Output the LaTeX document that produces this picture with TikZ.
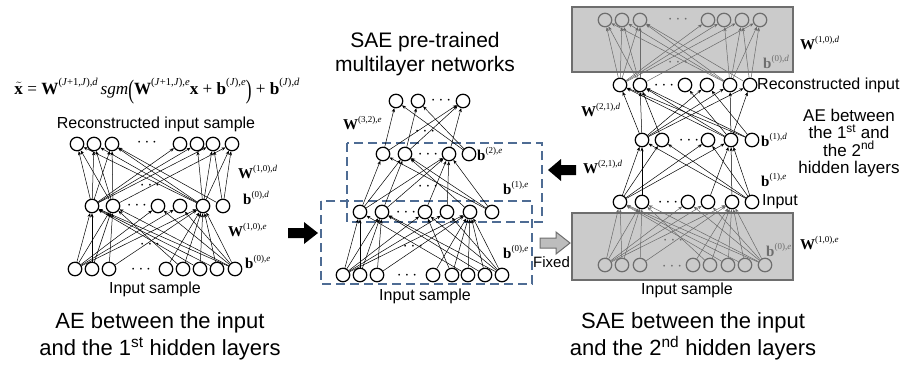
\documentclass[tikz,border=0pt]{standalone}
\usepackage{fontspec}
\usepackage{graphicx}
\setmainfont{Liberation Sans}
\newfontfamily\tms{Liberation Serif}
\usetikzlibrary{arrows.meta}
\definecolor{gbord}{HTML}{6E6E6E}
\definecolor{gfill}{HTML}{CBCBCB}
\definecolor{gline}{HTML}{6A6A6A}
\definecolor{dboxc}{HTML}{4E6C94}
\definecolor{harrow}{HTML}{BDBDBD}
\newcommand\blab[2]{{\tms\fontsize{15}{15}\selectfont\textbf{#1}\raisebox{0.5em}{\fontsize{9}{9}\selectfont #2}}}
\newcommand\fsup[1]{\raisebox{0.5em}{\fontsize{10.5}{10.5}\selectfont #1}}
\newcommand\bigpar[1]{\raisebox{-0.22em}{\scalebox{1}[1.55]{#1}}}
\newcommand\dotsym{\smash{$\cdots$}}
\begin{document}
\begin{tikzpicture}[x=1pt,y=-1pt,
 neuron/.style={circle,draw=black,line width=1.25pt,minimum size=13.5pt,inner sep=0pt},
 gneuron/.style={neuron,draw=gbord},
 edge/.style={line width=0.5pt,-{Stealth[length=4pt,width=3.2pt]}},
 gedge/.style={edge,draw=gline,color=gline},
 dts/.style={font=\fontsize{16}{16}\selectfont,inner sep=0pt,yshift=-4pt},
 lab/.style={anchor=west,inner sep=0pt},
 txt/.style={font=\fontsize{16}{16}\selectfont,inner sep=0pt},
 captxt/.style={font=\fontsize{22}{27}\selectfont,align=center,inner sep=0pt},
 dbox/.style={draw=dboxc,line width=1.5pt,dash pattern=on 9pt off 5pt},
 gbox/.style={draw=gbord,fill=gfill,line width=1.2pt},
]
\fill[white] (0,0) rectangle (910,367);
\useasboundingbox (0,0) rectangle (910,367);

% ================= LEFT PANEL =================
\node[inner sep=0pt] (formula) at (157,91) {\resizebox{285pt}{!}{\tms\fontsize{17}{17}\selectfont
 $\tilde{\mbox{\textbf{x}}}$ = \textbf{W}\fsup{(\textit{J}+1,\textit{J}),\textit{d}}\,\textit{sgm}\bigpar{(}\textbf{W}\fsup{(\textit{J}+1,\textit{J}),\textit{e}}\textbf{x} + \textbf{b}\fsup{(\textit{J}),\textit{e}}\bigpar{)} + \textbf{b}\fsup{(\textit{J}),\textit{d}}}};
\node[txt] (recL) at (156,124) {Reconstructed input sample};
\foreach \x [count=\i] in {77,94,112,180,197,213,232} \node[neuron] (LT\i) at (\x,144) {};
\foreach \x [count=\i] in {92,113,158,180,203,223} \node[neuron] (LM\i) at (\x,206) {};
\foreach \x [count=\i] in {75,92,109,166,183,200,217,235} \node[neuron] (LB\i) at (\x,269) {};
\foreach \a/\b in {1/1,1/2,1/3,1/4,1/5,1/6,2/1,2/2,2/3,2/7,5/1,5/2,5/3,5/5,5/6,5/7,6/3,6/6,6/7}
  \draw[edge] (LM\a) -- (LT\b);
\foreach \a/\b in {1/1,1/2,1/3,1/4,1/5,2/1,2/2,3/2,3/5,4/5,5/5,5/2,6/5,6/1,7/1,7/5,8/1,8/2,8/3,8/4,8/5}
  \draw[edge] (LB\a) -- (LM\b);
\node[dts] (ld1) at (147,142) {\dotsym};
\node[dts] (ld2) at (150,185) {\dotsym};
\node[dts] (ld3) at (137,205) {\dotsym};
\node[dts] (ld4) at (150,244) {\dotsym};
\node[dts] (ld5) at (141,269) {\dotsym};
\node[lab] (lW1) at (238,172) {\blab{W}{(1,0),\textit{d}}};
\node[lab] (lb1) at (243,198) {\blab{b}{(0),\textit{d}}};
\node[lab] (lW2) at (228,230) {\blab{W}{(1,0),\textit{e}}};
\node[lab] (lb2) at (245,262) {\blab{b}{(0),\textit{e}}};
\node[txt] (inL) at (155,289) {Input sample};
\node[captxt] (capL) at (160,336) {AE between the input\\and the 1\textsuperscript{st} hidden layers};
\fill (288,228) -- (304,228) -- (304,222) -- (318,233) -- (304,244) -- (304,238) -- (288,238) -- cycle;

% ================= MIDDLE PANEL =================
\node[captxt,font=\fontsize{21}{24}\selectfont] (titM) at (425,54) {SAE pre-trained\\multilayer networks};
\foreach \x [count=\i] in {396,418,463} \node[neuron] (MT\i) at (\x,101) {};
\foreach \x [count=\i] in {383,405,449,469} \node[neuron] (MH\i) at (\x,154) {};
\foreach \x [count=\i] in {360,382,425,447,470,492} \node[neuron] (MG\i) at (\x,212) {};
\foreach \x [count=\i] in {343,360,377,433,452,468,485,502} \node[neuron] (MI\i) at (\x,275) {};
\draw[dbox] (347,143) rectangle (542,222);
\draw[dbox] (321,201) rectangle (532,284);
\foreach \a/\b in {1/1,1/3,2/2,2/3,3/3,4/1,4/2}
  \draw[edge] (MH\a) -- (MT\b);
\foreach \a/\b in {1/1,1/2,1/3,2/2,2/3,3/3,4/3,5/2,6/1,6/2,6/3}
  \draw[edge] (MG\a) -- (MH\b);
\foreach \a/\b in {1/1,1/2,1/3,1/4,1/5,2/1,2/2,3/2,3/5,4/5,5/5,5/3,6/5,6/1,7/2,7/5,8/2,8/3,8/4,8/5}
  \draw[edge] (MI\a) -- (MG\b);
\node[dts] (md1) at (441,100) {\dotsym};
\node[dts] (md2) at (425,131) {\dotsym};
\node[dts] (md3) at (428,154) {\dotsym};
\node[dts] (md4) at (428,186) {\dotsym};
\node[dts] (md5) at (406,212) {\dotsym};
\node[dts] (md6) at (413,246) {\dotsym};
\node[dts] (md7) at (407,275) {\dotsym};
\node[lab] (mW) at (343,123) {\blab{W}{(3,2),\textit{e}}};
\node[lab] (mb2) at (477,154) {\blab{b}{(2),\textit{e}}};
\node[lab] (mb1) at (503,188) {\blab{b}{(1),\textit{e}}};
\node[lab] (mb0) at (503,252) {\blab{b}{(0),\textit{e}}};
\node[txt] (inM) at (425,296) {Input sample};
\fill (548,170) -- (561,159) -- (561,165) -- (576,165) -- (576,175) -- (561,175) -- (561,181) -- cycle;
\draw[draw=gbord,fill=harrow,line width=1pt] (540,238) -- (556,238) -- (556,232) -- (570,243) -- (556,254) -- (556,248) -- (540,248) -- cycle;
\node[lab,font=\fontsize{15}{15}\selectfont] (fixed) at (533,262) {Fixed};

% ================= RIGHT PANEL =================
\draw[gbox] (572,7) rectangle (793,72);
\draw[gbox] (572,213) rectangle (793,280);
\foreach \x [count=\i] in {605,622,640,708,724,742,760} \node[gneuron] (RT\i) at (\x,20) {};
\foreach \x [count=\i] in {620,640,685,707,730,750} \node[neuron] (R\i) at (\x,85) {};
\foreach \x [count=\i] in {642,662,708,731,752} \node[neuron] (RH\i) at (\x,140) {};
\foreach \x [count=\i] in {620,642,688,708,732,752} \node[neuron] (RI\i) at (\x,202) {};
\foreach \x [count=\i] in {605,622,640,693,710,728,745,765} \node[gneuron] (RB\i) at (\x,265) {};
\foreach \a/\b in {1/1,1/2,1/3,1/4,1/5,1/6,2/1,2/2,2/3,2/7,5/1,5/2,5/3,5/5,5/6,5/7,6/3,6/6,6/7}
  \draw[gedge] (R\a) -- (RT\b);
\foreach \a/\b in {1/1,1/2,1/4,1/5,1/6,2/2,4/1,4/2,4/3,4/5,4/6,5/1,5/2,5/4}
  \draw[edge] (RH\a) -- (R\b);
\foreach \a/\b in {1/1,1/2,1/3,1/4,2/1,4/4,5/4,6/1,6/2,6/3,6/4}
  \draw[edge] (RI\a) -- (RH\b);
\foreach \a/\b in {1/1,1/2,1/3,1/4,1/5,2/1,2/2,3/2,3/5,4/5,5/5,5/2,6/5,6/1,7/1,7/5,8/1,8/2,8/3,8/4,8/5}
  \draw[gedge] (RB\a) -- (RI\b);
\node[dts,text=gbord] (rd1) at (678,19) {\dotsym};
\node[dts,text=gbord] (rd2) at (678,62) {\dotsym};
\node[dts] (rd3) at (664,85) {\dotsym};
\node[dts] (rd4) at (689,140) {\dotsym};
\node[dts] (rd5) at (668,202) {\dotsym};
\node[dts,text=gbord] (rd6) at (673,240) {\dotsym};
\node[dts,text=gbord] (rd7) at (672,266) {\dotsym};
\node[lab] (rW1) at (800,43) {\blab{W}{(1,0),\textit{d}}};
\node[lab,text=gbord] (rb0d) at (763,62) {\blab{b}{(0),\textit{d}}};
\node[lab,font=\fontsize{16}{16}\selectfont] (recR) at (757,85) {Reconstructed input};
\node[lab] (rW2) at (581,110) {\blab{W}{(2,1),\textit{d}}};
\node[captxt,font=\fontsize{17}{17.5}\selectfont] (aeR) at (849,143) {AE between\\the 1\textsuperscript{st} and\\the 2\textsuperscript{nd}\\hidden layers};
\node[lab] (rb1d) at (761,140) {\blab{b}{(1),\textit{d}}};
\node[lab] (rW3) at (583,167) {\blab{W}{(2,1),\textit{d}}};
\node[lab] (rb1e) at (761,180) {\blab{b}{(1),\textit{e}}};
\node[lab,font=\fontsize{16}{16}\selectfont] (inpR) at (762,202) {Input};
\node[lab] (rW4) at (800,243) {\blab{W}{(1,0),\textit{e}}};
\node[lab,text=gbord] (rb0e) at (766,250) {\blab{b}{(0),\textit{e}}};
\node[txt] (inR) at (687,290) {Input sample};
\node[captxt] (capR) at (693,336) {SAE between the input\\and the 2\textsuperscript{nd} hidden layers};
\end{tikzpicture}
\end{document}
